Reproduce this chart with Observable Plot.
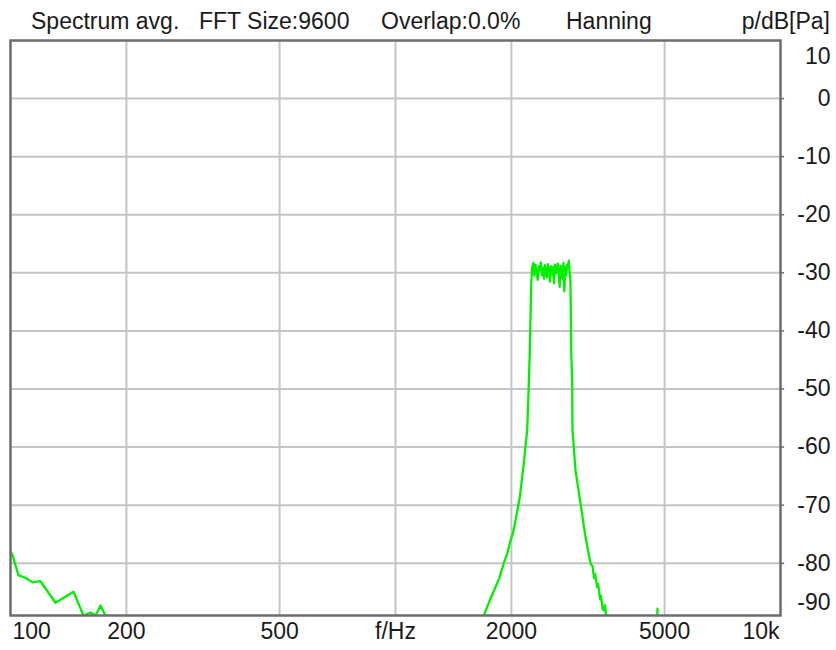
<!DOCTYPE html>
<html>
<head>
<meta charset="utf-8">
<script src="https://cdn.jsdelivr.net/npm/d3@7"></script>
<script src="https://cdn.jsdelivr.net/npm/@observablehq/plot@0.6"></script>
<style>
  html, body { margin: 0; padding: 0; background: #fff; }
  #wrap { width: 836px; height: 650px; position: relative; overflow: hidden; }
  #head { position: relative; height: 36px; font-family: "Liberation Sans", Arial, sans-serif; font-size: 23px; color: #1a1a1a; }
  #head span { position: absolute; top: 10px; line-height: 23px; white-space: pre; }
  #unit { right: 6px; }
</style>
</head>
<body>
<div id="wrap">
  <div id="head">
    <span style="left:31px">Spectrum avg.</span>
    <span style="left:199px">FFT Size:9600</span>
    <span style="left:381px">Overlap:0.0%</span>
    <span style="left:566px">Hanning</span>
    <span id="unit">p/dB[Pa]</span>
  </div>
  <div id="chart"></div>
</div>
<script>
// Spectrum trace (frequency in Hz, level in dB re Pa); values below the axis bottom are clipped
const freqHz = [
  100, 101.2, 104.9, 109.4, 114.1, 119.6, 130.9, 145.8, 154.7, 161.3, 166.3, 171.3, 176.4, 182,
  1680, 1696, 1760, 1819, 1860, 1911, 1950, 1989, 2020, 2050, 2103, 2154, 2198, 2212, 2233, 2252, 2265,
  2280, 2295, 2310, 2325, 2340, 2355, 2370, 2385, 2400, 2415, 2430, 2445, 2460, 2475, 2490, 2505,
  2520, 2535, 2550, 2565, 2580, 2595, 2610, 2625, 2640, 2655, 2670, 2685, 2700, 2715, 2730, 2745,
  2760, 2775, 2790, 2805, 2819,
  2848, 2860, 2877, 2882, 2935, 3024, 3115, 3210, 3250, 3280, 3300, 3341, 3360, 3400, 3420, 3450,
  3476, 3500, 3530, 3548, 3560,
  4775, 4790, 4805, 10000
];
const levelDb = [
  -78.0, -78.6, -82.1, -82.5, -83.3, -83.1, -86.8, -84.9, -89.0, -88.5, -89.0, -87.3, -89.0, -100,
  -100, -89.0, -86.3, -84.1, -82.6, -80.0, -78.4, -76.1, -74.8, -72.6, -68.6, -62.8, -57.1, -52.0, -43.4, -31.8, -29.0,
  -28.3, -30.5, -28.6, -29.8, -31.2, -28.9, -29.6, -28.2, -30.4, -29.1, -31.0, -28.7, -29.9, -30.8, -28.5, -29.4,
  -31.5, -28.9, -30.2, -29.0, -31.8, -28.6, -30.1, -29.3, -28.4, -30.6, -32.4, -28.8, -29.5, -31.0, -28.3, -33.2,
  -29.0, -30.5, -28.6, -29.2, -27.9,
  -31.8, -43.4, -49.1, -57.1, -64.0, -69.7, -75.5, -80.0, -80.6, -82.6, -81.9, -84.1, -83.6, -86.2, -85.6, -87.9,
  -88.1, -87.2, -89.5, -89.0, -100,
  -100, -87.8, -100, -100
];

const xGrid = [200, 500, 1000, 2000, 5000];
const xTickValues = [100, 200, 500, 1000, 2000, 5000, 10000];
const xTickLabels = ["100", "200", "500", "f/Hz", "2000", "5000", "10k"];
const yGrid = [0, -10, -20, -30, -40, -50, -60, -70, -80];
const yTickValues = [10, 0, -10, -20, -30, -40, -50, -60, -70, -80, -90];
const yDomain = [-89, 10];
const xDomain = [100, 10000];

const trace = freqHz.map((f, i) => ({f, db: levelDb[i]}));
const xTicks = xTickValues.map((v, i) => ({v, label: xTickLabels[i]}));
const yTicks = yTickValues.map(v => ({v, label: String(v)}));

const chart = Plot.plot({
  width: 836,
  height: 614,
  marginTop: 4,
  marginBottom: 35,
  marginLeft: 10,
  marginRight: 56,
  style: {fontFamily: "'Liberation Sans', Arial, sans-serif", fontSize: "23px", background: "white", color: "#1a1a1a", overflow: "visible"},
  x: {type: "log", domain: xDomain, axis: null},
  y: {domain: yDomain, axis: null},
  marks: [
    Plot.ruleX(xGrid, {stroke: "#c4c4c4", strokeWidth: 2}),
    Plot.ruleY(yGrid, {stroke: "#c4c4c4", strokeWidth: 2}),
    Plot.line(trace, {x: "f", y: "db", stroke: "#00f000", strokeWidth: 2.3, clip: true}),
    Plot.frame({stroke: "#6c6c6c", strokeWidth: 2.5}),
    Plot.ruleY(yGrid, {x1: 10000, x2: 10250, stroke: "#6c6c6c", strokeWidth: 1.5}),
    // y labels on the right
    Plot.text(yTicks.filter(d => d.v <= 0 && d.v >= -80), {x: () => 10000, y: "v", text: "label", textAnchor: "end", dx: 50, fill: "#1a1a1a"}),
    Plot.text(yTicks.filter(d => d.v === 10), {x: () => 10000, y: "v", text: "label", textAnchor: "end", dx: 50, dy: 16, fill: "#1a1a1a"}),
    Plot.text(yTicks.filter(d => d.v === -90), {x: () => 10000, y: "v", text: "label", textAnchor: "end", dx: 50, dy: -19, fill: "#1a1a1a"}),
    // x labels at the bottom
    Plot.text(xTicks.slice(0, 1), {x: "v", text: "label", frameAnchor: "bottom", textAnchor: "start", dx: 2, dy: 23, fill: "#1a1a1a"}),
    Plot.text(xTicks.slice(1, -1), {x: "v", text: "label", frameAnchor: "bottom", textAnchor: "middle", dy: 23, fill: "#1a1a1a"}),
    Plot.text(xTicks.slice(-1), {x: "v", text: "label", frameAnchor: "bottom", textAnchor: "end", dx: -1, dy: 23, fill: "#1a1a1a"})
  ]
});
document.getElementById("chart").appendChild(chart);
</script>
</body>
</html>
